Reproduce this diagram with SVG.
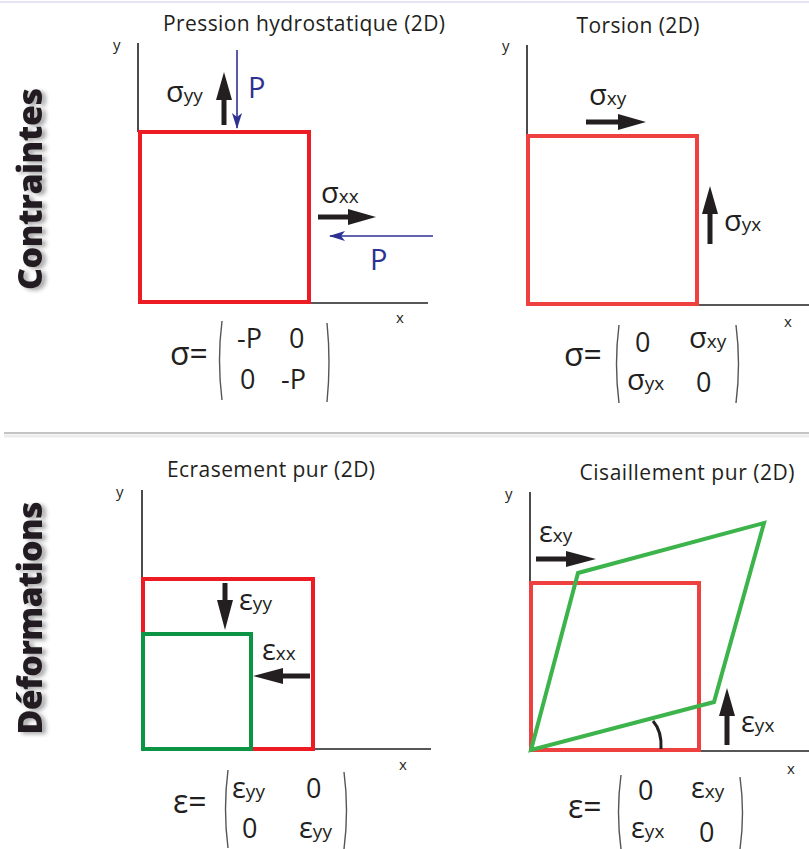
<svg xmlns="http://www.w3.org/2000/svg" width="809" height="849" viewBox="0 0 809 849">
<style>
text{font-family:"Open Sans","Noto Sans","Liberation Sans",sans-serif;fill:#231f20}
.title{font-size:21px;text-anchor:middle}
.ax{font-size:15px}
.side{font-size:34px;font-weight:800;text-anchor:middle}
.lab{font-size:29px}
.sub{font-size:19px}
.m{font-size:27px}
.eq{font-size:32px}
.axis{stroke:#231f20;stroke-width:1.6;fill:none}
.redA{fill:none;stroke:#ed1c24;stroke-width:4}
.redB{fill:none;stroke:#ef4040;stroke-width:4}
.arr{fill:#231f20;stroke:none}
.blue{stroke:#2e3192;stroke-width:1.6;fill:none}
.bluet{fill:#2e3192}
.par{fill:none;stroke:#555;stroke-width:1.4}
</style>
<defs>
<marker id="bh" markerUnits="userSpaceOnUse" viewBox="0 0 16 10" markerWidth="16" markerHeight="10" refX="15" refY="5" orient="auto">
<path d="M0,0 L16,5 L0,10 L4,5 Z" fill="#2e3192"/>
</marker>
<filter id="sh" x="-20%" y="-10%" width="160%" height="120%">
<feDropShadow dx="4" dy="2" stdDeviation="2" flood-color="#000" flood-opacity="0.35"/>
</filter>
</defs>
<rect width="809" height="849" fill="#fff"/>
<line x1="0" y1="2" x2="809" y2="2" stroke="#e4e4f4" stroke-width="2"/>
<line x1="4" y1="436" x2="809" y2="436" stroke="#ececec" stroke-width="3"/>
<line x1="4" y1="433" x2="809" y2="433" stroke="#c4c4c4" stroke-width="2"/>

<g id="side-labels" filter="url(#sh)">
<text class="side" transform="translate(42,189) rotate(-90)" textLength="202">Contraintes</text>
<text class="side" transform="translate(42,618) rotate(-90)" textLength="233">Déformations</text>
</g>

<g id="panel-pression">
<text class="title" x="304" y="31" textLength="282">Pression hydrostatique (2D)</text>
<path class="axis" d="M138,43 V132 M309,303 H428"/>
<text class="ax" x="113" y="50">y</text>
<text class="ax" x="396" y="323">x</text>
<rect class="redA" x="140" y="132" width="169" height="170"/>
<text class="lab" x="166" y="102">σ<tspan class="sub">yy</tspan></text>
<text class="lab" x="321" y="203">σ<tspan class="sub">xx</tspan></text>
<text class="lab bluet" x="248" y="98">P</text>
<text class="lab bluet" x="370" y="270">P</text>
<text class="eq" x="170" y="365">σ=</text>
<text class="m" x="237" y="348">-P</text>
<text class="m" x="289" y="348">0</text>
<text class="m" x="240" y="389">0</text>
<text class="m" x="281" y="389">-P</text>
<path class="par" d="M222,321 Q217,360 222,400 M327,323 Q331,362 327,402"/>
</g>

<g id="panel-torsion">
<text class="title" x="638" y="33" textLength="123">Torsion (2D)</text>
<path class="axis" d="M527,45 V135 M697,305 H809"/>
<text class="ax" x="502" y="51">y</text>
<text class="ax" x="784" y="327">x</text>
<rect class="redB" x="528" y="136" width="169" height="168"/>
<text class="lab" x="589" y="105">σ<tspan class="sub">xy</tspan></text>
<text class="lab" x="724" y="231">σ<tspan class="sub">yx</tspan></text>
<text class="eq" x="564" y="366">σ=</text>
<text class="m" x="635" y="352">0</text>
<text class="lab" x="689" y="348">σ<tspan class="sub">xy</tspan></text>
<text class="lab" x="627" y="390">σ<tspan class="sub">yx</tspan></text>
<text class="m" x="696" y="392">0</text>
<path class="par" d="M619,325 Q614,364 619,403 M736,325 Q741,364 736,403"/>
</g>

<g id="panel-ecrasement">
<text class="title" x="271" y="477" textLength="208">Ecrasement pur (2D)</text>
<path class="axis" d="M142,490 V579 M313,749 H431"/>
<text class="ax" x="116" y="497">y</text>
<text class="ax" x="399" y="770">x</text>
<rect class="redA" x="143" y="579" width="170" height="170"/>
<rect fill="none" stroke="#0a9444" stroke-width="4" x="143" y="634" width="108" height="115"/>
<text class="lab" x="239" y="610">ε<tspan class="sub">yy</tspan></text>
<text class="lab" x="262" y="660">ε<tspan class="sub">xx</tspan></text>
<text class="eq" x="173" y="813">ε=</text>
<text class="lab" x="232" y="798">ε<tspan class="sub">yy</tspan></text>
<text class="m" x="306" y="798">0</text>
<text class="m" x="242" y="838">0</text>
<text class="lab" x="299" y="838">ε<tspan class="sub">yy</tspan></text>
<path class="par" d="M228,770 Q223,809 228,848 M344,772 Q349,810 344,849"/>
</g>

<g id="panel-cisaillement">
<text class="title" x="687" y="480" textLength="215">Cisaillement pur (2D)</text>
<path class="axis" d="M530,492 V583 M700,751 H809"/>
<text class="ax" x="505" y="499">y</text>
<text class="ax" x="787" y="774">x</text>
<rect class="redB" x="531" y="583" width="168" height="167"/>
<path fill="none" stroke="#3cb44b" stroke-width="4" stroke-linejoin="miter" d="M531,750 L578,573 L764,523 L714,702 Z"/>
<path fill="none" stroke="#231f20" stroke-width="3" d="M653,721 Q662,731 661,749"/>
<text class="lab" x="539" y="542">ε<tspan class="sub">xy</tspan></text>
<text class="lab" x="741" y="732">ε<tspan class="sub">yx</tspan></text>
<text class="eq" x="568" y="818">ε=</text>
<text class="m" x="638" y="800">0</text>
<text class="lab" x="691" y="798">ε<tspan class="sub">xy</tspan></text>
<text class="lab" x="631" y="838">ε<tspan class="sub">yx</tspan></text>
<text class="m" x="699" y="842">0</text>
<path class="par" d="M621,775 Q616,812 621,849 M740,777 Q745,813 740,849"/>
</g>

<g id="connectors">
<path class="arr" d="M221.5,125 V100 H216 L224,72 L232,100 H226.5 V125 Z"/>
<path class="arr" d="M318,214.5 H348 V209 L376,217 L348,225 V219.5 H318 Z"/>
<path class="arr" d="M586,119.5 H618 V114 L646,122 L618,130 V124.5 H586 Z"/>
<path class="arr" d="M707.5,244 V214 H702 L710,186 L718,214 H712.5 V244 Z"/>
<path class="arr" d="M222.5,583 V600 H217 L225,630 L233,600 H227.5 V583 Z"/>
<path class="arr" d="M310,673.5 H283 V668 L253,676 L283,684 V678.5 H310 Z"/>
<path class="arr" d="M536,556.5 H566 V551 L596,559 L566,567 V561.5 H536 Z"/>
<path class="arr" d="M724.5,745 V716 H719 L727,688 L735,716 H729.5 V745 Z"/>
<line class="blue" x1="237" y1="50" x2="237" y2="128" marker-end="url(#bh)"/>
<line class="blue" x1="433" y1="236" x2="330" y2="236" marker-end="url(#bh)"/>
</g>
</svg>
